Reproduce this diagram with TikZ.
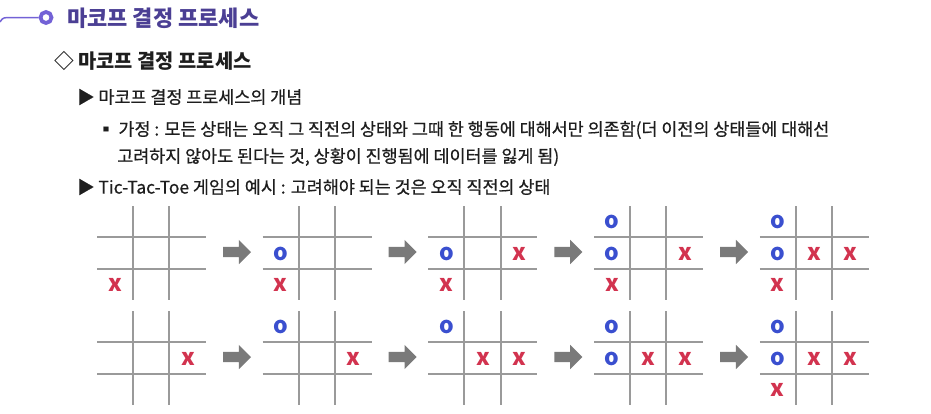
\documentclass[tikz,border=0pt]{standalone}
\usepackage{fontspec}
\setmainfont{Noto Sans CJK KR}
\newfontfamily\medfont{Noto Sans CJK KR}[FakeBold=0.6]
\usetikzlibrary{shapes.arrows}
\definecolor{titlepurple}{HTML}{4B3F94}
\definecolor{linepurple}{HTML}{7362D6}
\definecolor{gridgray}{HTML}{9A9A9A}
\definecolor{arrowgray}{HTML}{7A7A7A}
\definecolor{oblue}{HTML}{3A4FCF}
\definecolor{xred}{HTML}{D2334F}
\definecolor{bodytext}{HTML}{1E1E1E}
\tikzstyle{board} = [draw=gridgray, line width=2pt]
\tikzstyle{omark} = [text=oblue, font=\bfseries\fontsize{23}{23}\selectfont, inner sep=0pt]
\tikzstyle{xmark} = [text=xred, font=\bfseries\fontsize{23}{23}\selectfont, inner sep=0pt]
\tikzstyle{stepnext} = [single arrow, fill=arrowgray, inner sep=5pt, minimum height=28pt, single arrow head extend=7pt]
\tikzstyle{txt} = [anchor=west, inner sep=0pt, text=bodytext]
\tikzstyle{bodyfont} = [font=\medfont\fontsize{17.4}{17.4}\selectfont]

\begin{document}
\begin{tikzpicture}[x=1pt, y=-1pt]
    \useasboundingbox (0,0) rectangle (931,413);
    % heading
    \coordinate (hstart) at (0,22);
    \node[circle, draw=linepurple, line width=3.8pt, minimum size=11pt, inner sep=0pt] (hdot) at (46,17.5) {};
    \draw[linepurple, line width=1.5pt] (hstart) .. controls (3,17.5) .. (12,17.5) -- (hdot.west);
    \node[txt, text=titlepurple, font=\bfseries\fontsize{22}{22}\selectfont] (title) at (67,18) {마코프 결정 프로세스};
    % text lines
    \node[txt, font=\bfseries\fontsize{19.8}{19.8}\selectfont] (sec) at (54,61) {◇ 마코프 결정 프로세스};
    \node[txt, bodyfont] (sub1) at (77,97) {▶ 마코프 결정 프로세스의 개념};
    \node[txt, bodyfont] (item) at (97,130) {▪ 가정 : 모든 상태는 오직 그 직전의 상태와 그때 한 행동에 대해서만 의존함(더 이전의 상태들에 대해선};
    \node[txt, bodyfont] (item2) at (117,157) {고려하지 않아도 된다는 것, 상황이 진행됨에 데이터를 잃게 됨)};
    \node[txt, bodyfont] (sub2) at (77,187) {▶ Tic-Tac-Toe 게임의 예시 : 고려해야 되는 것은 오직 직전의 상태};
    % boards
    \foreach \k in {0,...,4} {
        \foreach \oy in {206,311} {
            \draw[board] (97+165.7*\k+36,\oy) -- (97+165.7*\k+36,\oy+94);
            \draw[board] (97+165.7*\k+72.3,\oy) -- (97+165.7*\k+72.3,\oy+94);
            \draw[board] (97+165.7*\k,\oy+31.3) -- (97+165.7*\k+109,\oy+31.3);
            \draw[board] (97+165.7*\k,\oy+63.3) -- (97+165.7*\k+109,\oy+63.3);
        }
    }
    % arrows
    \node[stepnext] (a1) at (234.4,252) {};
    \node[stepnext] (a2) at (400.1,252) {};
    \node[stepnext] (a3) at (565.8,252) {};
    \node[stepnext] (a4) at (731.5,252) {};
    \node[stepnext] (b1) at (234.4,357) {};
    \node[stepnext] (b2) at (400.1,357) {};
    \node[stepnext] (b3) at (565.8,357) {};
    \node[stepnext] (b4) at (731.5,357) {};
    % first row
    \node[xmark] (x11) at (115,285) {x};
    \node[omark] (o21) at (280.7,253.5) {o};
    \node[xmark] (x21) at (280.7,285) {x};
    \node[omark] (o31) at (446.4,253.5) {o};
    \node[xmark] (x31) at (519.4,253.5) {x};
    \node[xmark] (x32) at (446.4,285) {x};
    \node[omark] (o41) at (612.1,222) {o};
    \node[omark] (o42) at (612.1,253.5) {o};
    \node[xmark] (x41) at (685.1,253.5) {x};
    \node[xmark] (x42) at (612.1,285) {x};
    \node[omark] (o51) at (777.8,222) {o};
    \node[omark] (o52) at (777.8,253.5) {o};
    \node[xmark] (x51) at (814.3,253.5) {x};
    \node[xmark] (x52) at (850.8,253.5) {x};
    \node[xmark] (x53) at (777.8,285) {x};
    % second row
    \node[xmark] (y11) at (188,358.5) {x};
    \node[omark] (p21) at (280.7,327) {o};
    \node[xmark] (y21) at (353.7,358.5) {x};
    \node[omark] (p31) at (446.4,327) {o};
    \node[xmark] (y31) at (482.9,358.5) {x};
    \node[xmark] (y32) at (519.4,358.5) {x};
    \node[omark] (p41) at (612.1,327) {o};
    \node[omark] (p42) at (612.1,358.5) {o};
    \node[xmark] (y41) at (648.6,358.5) {x};
    \node[xmark] (y42) at (685.1,358.5) {x};
    \node[omark] (p51) at (777.8,327) {o};
    \node[omark] (p52) at (777.8,358.5) {o};
    \node[xmark] (y51) at (814.3,358.5) {x};
    \node[xmark] (y52) at (850.8,358.5) {x};
    \node[xmark] (y53) at (777.8,390) {x};
\end{tikzpicture}
\end{document}
